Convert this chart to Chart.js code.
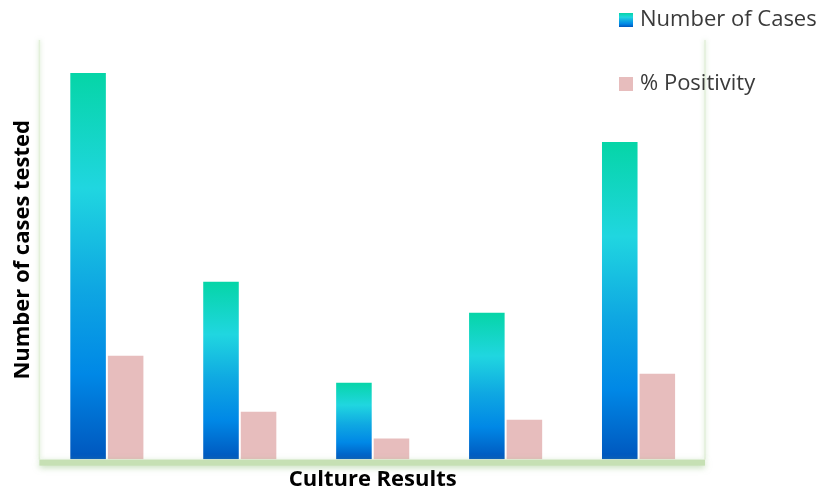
<!DOCTYPE html>
<html>
<head>
<meta charset="utf-8">
<script src="https://cdn.jsdelivr.net/npm/chart.js@4.4.1/dist/chart.umd.min.js"></script>
<style>
  html, body { margin: 0; padding: 0; background: #fff; }
  #wrap { width: 824px; height: 493px; }
</style>
</head>
<body>
<div id="wrap"><canvas id="chart-container"></canvas></div>
<script>
// values (no axis ticks shown, so units are relative)
const categories = ['1', '2', '3', '4', '5'];
const numberOfCases = [388, 179, 78, 148, 319];
const positivity = [105, 49, 22, 41, 87];
const yMax = 420;

function blueGradient(ctx, top, bottom) {
  const g = ctx.createLinearGradient(0, top, 0, bottom);
  g.addColorStop(0, '#05d5a6');
  g.addColorStop(0.3, '#20d6e0');
  g.addColorStop(0.55, '#0fa8e2');
  g.addColorStop(0.78, '#0088e6');
  g.addColorStop(1, '#0056bd');
  return g;
}

function barFill(context) {
  const chart = context.chart;
  const y = chart.scales && chart.scales.y;
  if (!y || context.raw == null) return '#0a9be0';
  const top = y.getPixelForValue(context.raw);
  const bottom = y.getPixelForValue(0);
  if (!isFinite(top) || !isFinite(bottom) || top === bottom) return '#0a9be0';
  return blueGradient(chart.ctx, top, bottom);
}

// frame: faint green side lines and a thick green base line with soft shadow
const framePlugin = {
  id: 'frame',
  beforeDatasetsDraw(chart) {
    const { ctx, chartArea: a } = chart;
    ctx.save();
    ctx.shadowColor = 'rgba(150, 200, 130, 0.5)';
    ctx.shadowBlur = 4;
    ctx.strokeStyle = '#e3f0da';
    ctx.lineWidth = 1.5;
    ctx.beginPath();
    ctx.moveTo(a.left - 1, a.top);
    ctx.lineTo(a.left - 1, a.bottom);
    ctx.moveTo(a.right, a.top);
    ctx.lineTo(a.right, a.bottom);
    ctx.stroke();
    ctx.restore();
  },
  afterDatasetsDraw(chart) {
    const { ctx, chartArea: a } = chart;
    ctx.save();
    ctx.shadowColor = 'rgba(140, 190, 120, 0.55)';
    ctx.shadowBlur = 6;
    ctx.shadowOffsetY = 2;
    ctx.fillStyle = '#c6e0b4';
    ctx.fillRect(a.left - 1, a.bottom, a.right - a.left + 1, 6);
    ctx.restore();
  }
};

// legend in the top right corner, stacked vertically
const legendPlugin = {
  id: 'cornerLegend',
  afterDraw(chart) {
    const ctx = chart.ctx;
    const items = chart.data.datasets;
    ctx.save();
    ctx.font = '22px "Open Sans", Lato, sans-serif';
    ctx.textBaseline = 'middle';
    items.forEach((ds, i) => {
      const y = 20 + i * 64;
      ctx.fillStyle = i === 0 ? blueGradient(ctx, y - 7, y + 7) : ds.backgroundColor;
      ctx.fillRect(619, y - 7, 14, 14);
      ctx.fillStyle = '#3a3a3a';
      ctx.fillText(ds.label, 640, y);
    });
    ctx.restore();
  }
};

const titleFont = { family: '"Open Sans", Lato, sans-serif', size: 22, weight: 'bold' };

new Chart(document.getElementById('chart-container'), {
  type: 'bar',
  data: {
    labels: categories,
    datasets: [
      {
        label: 'Number of Cases',
        data: numberOfCases,
        backgroundColor: barFill,
        borderColor: 'rgba(255,255,255,0.35)',
        borderWidth: 1
      },
      {
        label: '% Positivity',
        data: positivity,
        backgroundColor: '#e7bdbd',
        borderColor: 'rgba(255,255,255,0.4)',
        borderWidth: 1
      }
    ]
  },
  options: {
    responsive: true,
    maintainAspectRatio: false,
    animation: false,
    layout: { padding: { top: 40, right: 119, left: 8, bottom: 0 } },
    datasets: { bar: { categoryPercentage: 0.565, barPercentage: 1 } },
    plugins: {
      legend: { display: false },
      tooltip: { enabled: false }
    },
    scales: {
      x: {
        grid: { display: false, drawTicks: false },
        border: { display: false },
        ticks: { display: false },
        title: {
          display: true,
          text: 'Culture Results',
          color: '#000',
          font: titleFont,
          padding: { top: 7, bottom: 0 }
        }
      },
      y: {
        min: 0,
        max: yMax,
        grid: { display: false, drawTicks: false },
        border: { display: false },
        ticks: { display: false },
        title: {
          display: true,
          text: 'Number of cases tested',
          color: '#000',
          font: titleFont,
          padding: { top: 2, bottom: 4 }
        }
      }
    }
  },
  plugins: [framePlugin, legendPlugin]
});
</script>
</body>
</html>
